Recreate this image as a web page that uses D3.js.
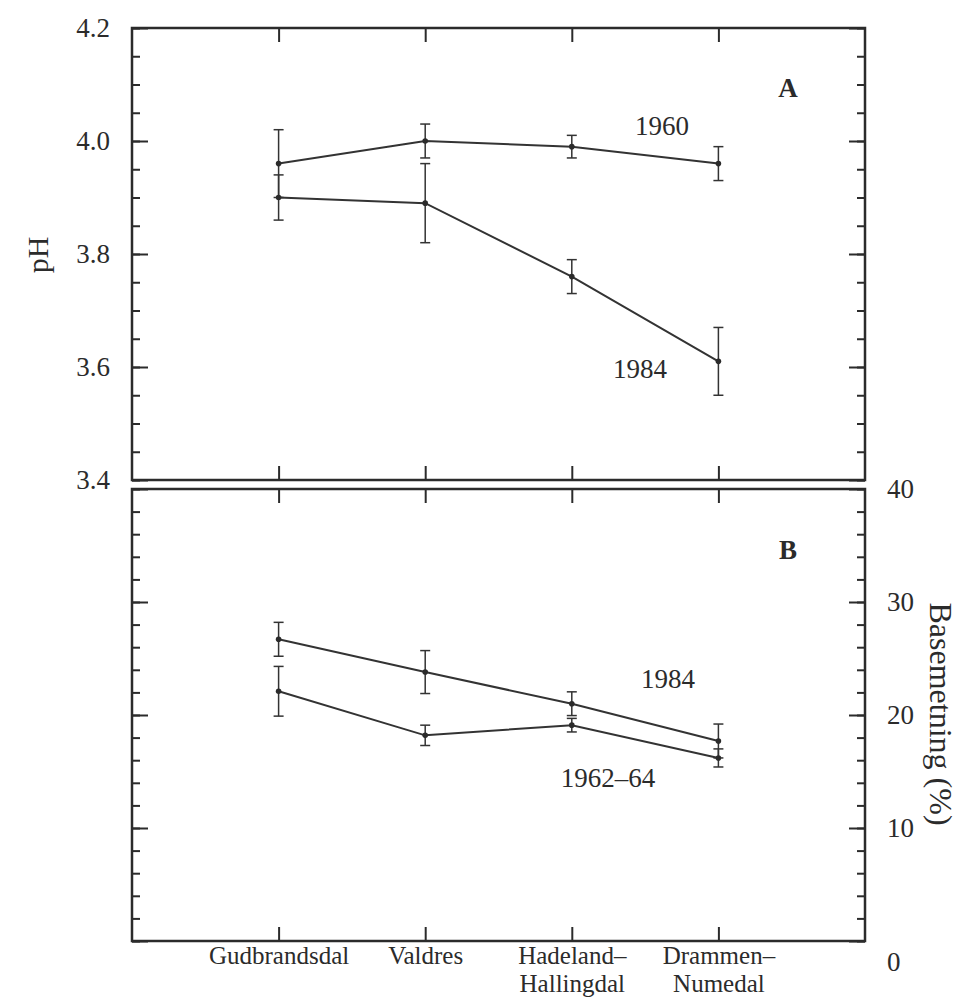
<!DOCTYPE html>
<html>
<head>
    <meta charset="utf-8">
    <title>pH og basemetning</title>
    <style>
        body { margin: 0; background: #fff; }
        text { font-family: "Liberation Serif", "DejaVu Serif", serif; fill: #2b2b2b; }
        .axis text { font-size: 27px; }
        .axis line { stroke: #2b2b2b; stroke-width: 2px; }
        .axis path { display: none; }
        .frame { fill: none; stroke: #2b2b2b; stroke-width: 2.5px; }
        .series { fill: none; stroke: #333; stroke-width: 2px; }
        .err { stroke: #333; stroke-width: 1.5px; }
    </style>
</head>
<body>
    <svg id="chart" width="969" height="1000"></svg>

    <script src="https://cdnjs.cloudflare.com/ajax/libs/d3/7.8.5/d3.min.js"></script>
    <script>
        // regions along the x axis
        var regions = ["Gudbrandsdal", "Valdres", "Hadeland–Hallingdal", "Drammen–Numedal"];

        // panel A: pH, mean and error half-width
        var ph1960 = [3.96, 4.00, 3.99, 3.96];
        var ph1960Err = [0.06, 0.03, 0.02, 0.03];
        var ph1984 = [3.90, 3.89, 3.76, 3.61];
        var ph1984Err = [0.04, 0.07, 0.03, 0.06];

        // panel B: base saturation (%)
        var bs1984 = [26.7, 23.8, 21.0, 17.7];
        var bs1984Err = [1.5, 1.9, 1.05, 1.5];
        var bs1962 = [22.1, 18.2, 19.1, 16.2];
        var bs1962Err = [2.2, 0.9, 0.6, 0.8];

        var phTicks = [3.4, 3.6, 3.8, 4.0, 4.2];
        var bsTicks = [0, 10, 20, 30, 40];

        var svg = d3.select("#chart");
        var left = 132, right = 865;
        var topA = 28, botA = 480, topB = 489, botB = 941;

        var x = d3.scalePoint().domain(regions).range([left, right]).padding(1);
        var yA = d3.scaleLinear().domain([3.4, 4.2]).range([botA, topA]);
        var yB = d3.scaleLinear().domain([0, 40]).range([botB, topB]);

        function frame(y0, y1) {
            svg.append("rect").attr("class", "frame")
                .attr("x", left).attr("y", y0)
                .attr("width", right - left).attr("height", y1 - y0);
        }
        frame(topA, botA);
        frame(topB, botB);

        // y axes: minor and major ticks, pointing inward
        function yAxes(scale, minorStep, majorTicks, labelSide) {
            var d = scale.domain();
            var minor = d3.range(d[0], d[1] + minorStep / 2, minorStep);
            [["L", left], ["R", right]].forEach(function (s) {
                var mk = s[0] === "L" ? d3.axisLeft : d3.axisRight;
                svg.append("g").attr("class", "axis")
                    .attr("transform", "translate(" + s[1] + ",0)")
                    .call(mk(scale).tickValues(minor).tickSize(-8).tickSizeOuter(0).tickFormat(""));
                var major = mk(scale).tickValues(majorTicks).tickSize(-16).tickSizeOuter(0).tickPadding(22);
                if (s[0] !== labelSide) major.tickFormat("");
                else major.tickFormat(scale === yA ? d3.format(".1f") : d3.format("d"));
                var g = svg.append("g").attr("class", "axis")
                    .attr("transform", "translate(" + s[1] + ",0)")
                    .call(major);
                // the zero label sits a little below the frame in the original
                if (scale === yB && s[0] === labelSide) {
                    g.selectAll(".tick text").filter(function (v) { return v === 0; }).attr("dy", "1.1em");
                }
            });
        }
        yAxes(yA, 0.05, phTicks, "L");
        yAxes(yB, 2, bsTicks, "R");

        // x ticks on every horizontal frame edge
        [[topA, d3.axisTop], [botA, d3.axisBottom], [topB, d3.axisTop]].forEach(function (a) {
            svg.append("g").attr("class", "axis")
                .attr("transform", "translate(0," + a[0] + ")")
                .call(a[1](x).tickSize(-14).tickSizeOuter(0).tickFormat(""));
        });
        var xAx = svg.append("g").attr("class", "axis")
            .attr("transform", "translate(0," + botB + ")")
            .call(d3.axisBottom(x).tickSize(-14).tickSizeOuter(0).tickFormat(""));
        xAx.selectAll(".tick").append("text")
            .attr("text-anchor", "middle")
            .attr("fill", "#2b2b2b")
            .style("font-size", "25px")
            .selectAll("tspan")
            .data(function (d) { return d.split("–").map(function (p, i, arr) { return i < arr.length - 1 ? p + "–" : p; }); })
            .join("tspan")
            .attr("x", 0)
            .attr("y", function (d, i) { return 23 + i * 28; })
            .text(function (d) { return d; });

        // series with error bars
        function series(vals, errs, y, name, width) {
            var pts = regions.map(function (r, i) { return { r: r, v: vals[i], e: errs[i], i: i }; });
            var g = svg.append("g");
            g.append("path").attr("class", "series")
                .attr("stroke-width", width)
                .attr("d", d3.line().x(function (d) { return x(d.r); }).y(function (d) { return y(d.v); })(pts));
            var eb = g.selectAll(".eb").data(pts).join("g")
                .attr("class", "err")
                .attr("stroke", function (d) { return (name === "ph1984" && d.i === 1) ? "#999" : "#333"; });
            eb.append("line")
                .attr("x1", function (d) { return x(d.r); }).attr("x2", function (d) { return x(d.r); })
                .attr("y1", function (d) { return y(d.v - d.e); }).attr("y2", function (d) { return y(d.v + d.e); });
            [-1, 1].forEach(function (s) {
                eb.append("line")
                    .attr("x1", function (d) { return x(d.r) - 5; }).attr("x2", function (d) { return x(d.r) + 5; })
                    .attr("y1", function (d) { return y(d.v + s * d.e); }).attr("y2", function (d) { return y(d.v + s * d.e); });
            });
            g.selectAll("circle").data(pts).join("circle")
                .attr("cx", function (d) { return x(d.r); })
                .attr("cy", function (d) { return y(d.v); })
                .attr("r", 2.8).attr("fill", "#2b2b2b");
        }
        series(ph1960, ph1960Err, yA, "ph1960", 1.8);
        series(ph1984, ph1984Err, yA, "ph1984", 2.2);
        series(bs1984, bs1984Err, yB, "bs1984", 2);
        series(bs1962, bs1962Err, yB, "bs1962", 2);

        // labels
        function label(t, xx, yy, opts) {
            var el = svg.append("text").attr("x", xx).attr("y", yy)
                .attr("text-anchor", "middle").attr("font-size", 27).text(t);
            if (opts && opts.bold) el.attr("font-weight", "bold");
            return el;
        }
        label("1960", 662, 135);
        label("1984", 640, 378);
        label("A", 788, 97, { bold: true });
        label("1984", 668, 688);
        label("1962–64", 608, 787);
        label("B", 788, 559, { bold: true });

        svg.append("text")
            .attr("transform", "translate(48,255) rotate(-90)")
            .attr("text-anchor", "middle").attr("font-size", 30).text("pH");
        svg.append("text")
            .attr("transform", "translate(930,714) rotate(90)")
            .attr("text-anchor", "middle").attr("font-size", 32).text("Basemetning (%)");
    </script>
</body>
</html>
